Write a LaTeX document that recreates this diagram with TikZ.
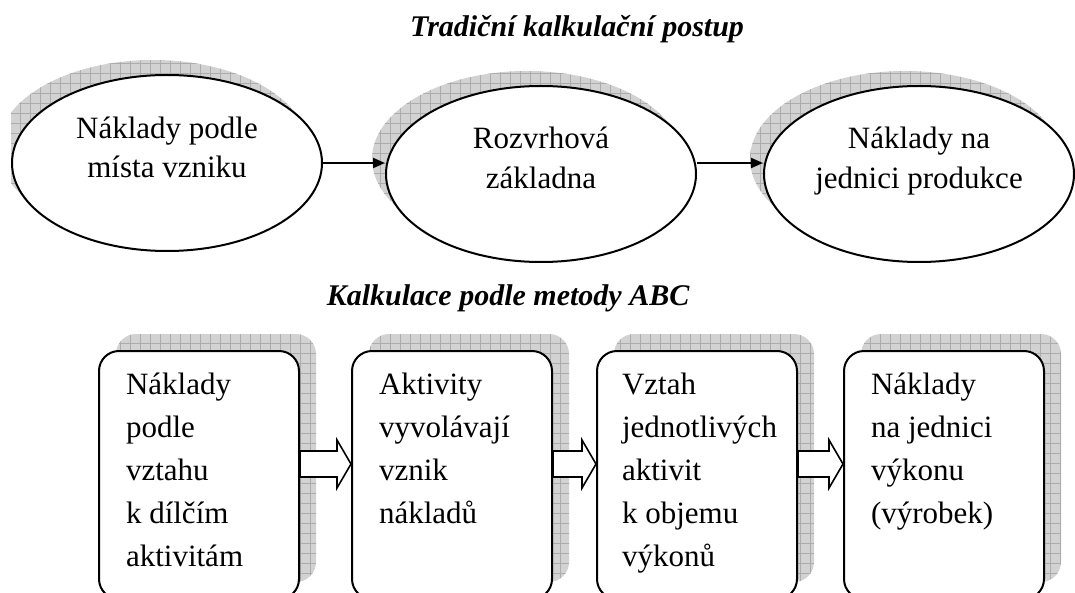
\documentclass[tikz,border=0pt]{standalone}
\usepackage{fontspec}
\setmainfont{Liberation Serif}
\usetikzlibrary{arrows.meta,shapes.geometric,shadows,patterns.meta,calc}

% hollow block arrow from one box to the next
\newcommand{\blockarrow}[2]{%
  \draw[block arrow] let \p1 = ($(#1)+(0,-11)$), \p2 = ($(#2)+(0,-11)$) in
    (\x1,\y1+6.5pt) -- (\x2-7pt,\y1+6.5pt) -- (\x2-7pt,\y1+12pt) -- (\x2,\y1)
    -- (\x2-7pt,\y1-12pt) -- (\x2-7pt,\y1-6.5pt) -- (\x1,\y1-6.5pt) -- cycle;}

\begin{document}
\begin{tikzpicture}[
            x = 0.5pt, y = -0.5pt, % one unit = one pixel of the sketch
            > = {Triangle[length=6pt,width=5pt]}, % arrow head style
            line width = 1pt % line style
        ]

        \tikzstyle{grid shadow}=[
            general shadow = {shadow xshift=#1, shadow yshift=7.5pt, fill=gray!35},
            general shadow = {shadow xshift=#1, shadow yshift=7.5pt,
                pattern={Hatch[distance=5pt, line width=0.4pt]}, pattern color=gray!65}
        ]
        \tikzstyle{flow ellipse}=[
            ellipse,
            draw = black,
            fill = white,
            inner sep = 0pt,
            minimum width = 155pt,
            minimum height = 88pt,
            grid shadow = -7pt
        ]
        \tikzstyle{abc box}=[
            rectangle,
            rounded corners = 10pt,
            draw = black,
            fill = white,
            minimum width = 100pt,
            minimum height = 124pt,
            general shadow = {shadow xshift=8.5pt, shadow yshift=8.5pt, fill=gray!35},
            general shadow = {shadow xshift=8.5pt, shadow yshift=8.5pt,
                pattern={Hatch[distance=5pt, line width=0.4pt]}, pattern color=gray!65}
        ]
        \tikzstyle{heading}=[
            anchor = base,
            font = \fontsize{15}{18}\selectfont\bfseries\itshape
        ]
        \tikzstyle{ellipse text}=[
            anchor = base, % base of the last line
            align = center,
            inner sep = 0pt,
            font = \fontsize{15.5}{20}\selectfont
        ]
        \tikzstyle{box text}=[
            anchor = base west, % base of the last line
            align = left,
            inner sep = 0pt,
            font = \fontsize{15.5}{21.5}\selectfont
        ]
        \tikzstyle{block arrow}=[
            draw = black,
            fill = white,
            line width = 0.8pt
        ]

        \useasboundingbox (0,0) rectangle (1075,593);
        \clip (11,0) rectangle (1075,593);

        \node (head1) [heading] at (577,37) {Tradiční kalkulační postup};
        \node (head2) [heading] at (508,305) {Kalkulace podle metody ABC};

        \node (t1) [flow ellipse] at (167,163) {};
        \node (t2) [flow ellipse] at (541,174) {};
        \node (t3) [flow ellipse] at (919,174) {};
        \node (t1 text) [ellipse text] at ($(t1.center)+(0,15)$) {Náklady podle\\místa vzniku};
        \node (t2 text) [ellipse text] at ($(t2.center)+(0,15)$) {Rozvrhová\\základna};
        \node (t3 text) [ellipse text] at ($(t3.center)+(0,15)$) {Náklady na\\jednici produkce};

        \path[->] (t1.east) edge (t1.east -| t2.west);
        \path[->] (t2.east |- t1.east) edge (t1.east -| t3.west);

        \node (a1) [abc box] at (199,475) {};
        \node (a2) [abc box] at (452,475) {};
        \node (a3) [abc box] at (697,475) {};
        \node (a4) [abc box] at (944,475) {};
        \node (a1 text) [box text] at ($(a1.north west)+(27,216)$) {Náklady\\podle\\vztahu\\k dílčím\\aktivitám};
        \node (a2 text) [box text] at ($(a2.north west)+(27,173)$) {Aktivity\\vyvolávají\\vznik\\nákladů};
        \node (a3 text) [box text] at ($(a3.north west)+(25,216)$) {Vztah\\jednotlivých\\aktivit\\k objemu\\výkonů};
        \node (a4 text) [box text] at ($(a4.north west)+(27,173)$) {Náklady\\na jednici\\výkonu\\(výrobek)};

        \blockarrow{a1.east}{a2.west}
        \blockarrow{a2.east}{a3.west}
        \blockarrow{a3.east}{a4.west}
    \end{tikzpicture}
\end{document}
